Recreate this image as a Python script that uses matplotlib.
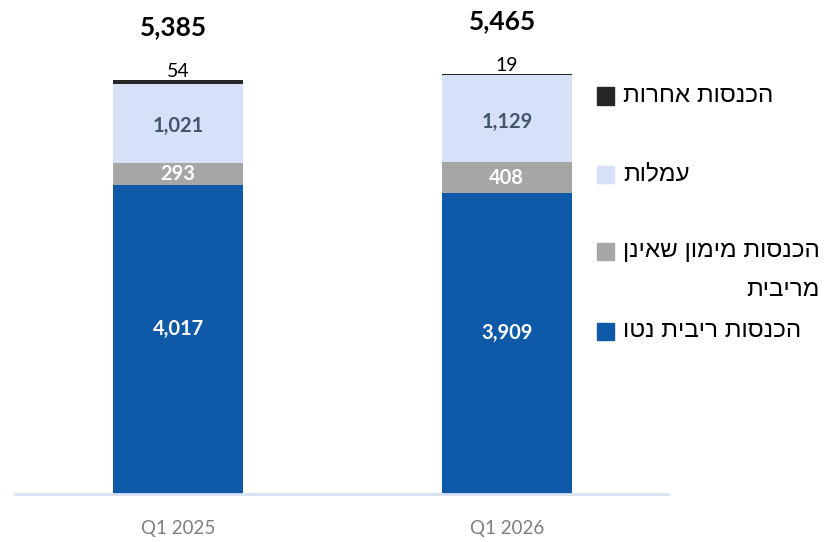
import matplotlib
matplotlib.use('Agg')
import matplotlib.pyplot as plt
from matplotlib.patches import Rectangle
import numpy as np

# data
quarters = ['Q1 2025', 'Q1 2026']
net_interest = [4017, 3909]
non_interest_finance = [293, 408]
fees = [1021, 1129]
other_income = [54, 19]
totals = [5385, 5465]

series_names = ['הכנסות ריבית נטו', 'הכנסות מימון שאינן\nמריבית', 'עמלות', 'הכנסות אחרות']
series_colors = ['#0F5AA8', '#A6A6A6', '#D6E0F6', '#262626']
label_colors = ['white', 'white', '#44546A', 'black']
label_shift = [8, 0, -2, 0]  # points, where Excel put the in-bar labels

NUM_FONT = ['Lato', 'DejaVu Sans']
HEB_FONT = ['Liberation Sans', 'DejaVu Sans']


def rtl(s):
    # matplotlib has no bidi support, so flip each line by hand
    return '\n'.join(line[::-1] for line in s.split('\n'))


fig = plt.figure(figsize=(8.26, 5.42), dpi=100)
W, H = 826, 542
ax = fig.add_axes([15 / W, (H - 494) / H, 653 / W, (494 - 10) / H])

x = np.arange(len(quarters))
bar_w = 0.396
stack = [net_interest, non_interest_finance, fees, other_income]
bottom = np.zeros(len(quarters))
for vals, col, lcol, dy in zip(stack, series_colors, label_colors, label_shift):
    vals = np.array(vals, dtype=float)
    ax.bar(x, vals, bar_w, bottom=bottom, color=col, edgecolor='none', zorder=2)
    for i, v in enumerate(vals):
        if lcol == 'black':
            ax.annotate(f'{int(v):,}', (x[i], bottom[i] + v), xytext=(0, 6),
                        textcoords='offset points', ha='center', va='center',
                        fontsize=14, color=lcol, family=NUM_FONT)
        else:
            ax.annotate(f'{int(v):,}', (x[i], bottom[i] + v / 2), xytext=(0, dy),
                        textcoords='offset points', ha='center', va='center',
                        fontsize=14.5, fontweight='bold', color=lcol, family=NUM_FONT)
    bottom += vals

for i, t in enumerate(totals):
    ax.annotate(f'{t:,}', (x[i], t), xytext=(-3, 38), textcoords='offset points',
                ha='center', va='center', fontsize=19, fontweight='bold',
                color='black', family=NUM_FONT)

ax.set_xlim(-0.496, 1.49)
ax.set_ylim(0, 484 / 0.07688)
ax.set_xticks(x)
ax.set_xticklabels(quarters, fontsize=13.5, color='#7F7F7F', family=NUM_FONT)
ax.tick_params(axis='x', length=0, pad=19)
ax.set_yticks([])
for side in ['top', 'right', 'left']:
    ax.spines[side].set_visible(False)
ax.spines['bottom'].set_color('#D9E2F3')
ax.spines['bottom'].set_linewidth(2)

# legend drawn by hand to keep the right-aligned wrapped Hebrew label
legend_y = [331, 251, 174, 96]
for name, col, yc in zip(series_names, series_colors, legend_y):
    fig.patches.append(Rectangle((597 / W, 1 - (yc + 8.5) / H), 17 / W, 17 / H,
                                 transform=fig.transFigure, color=col, zorder=3))
    lines = name.split('\n')
    fig.text(623 / W, 1 - yc / H, rtl(lines[0]), ha='left', va='center',
             fontsize=17.5, color='black', family=HEB_FONT)
    if len(lines) > 1:
        fig.text(820 / W, 1 - (yc + 39) / H, rtl(lines[1]), ha='right', va='center',
                 fontsize=17.5, color='black', family=HEB_FONT)

fig.savefig('out.png', dpi=100)
